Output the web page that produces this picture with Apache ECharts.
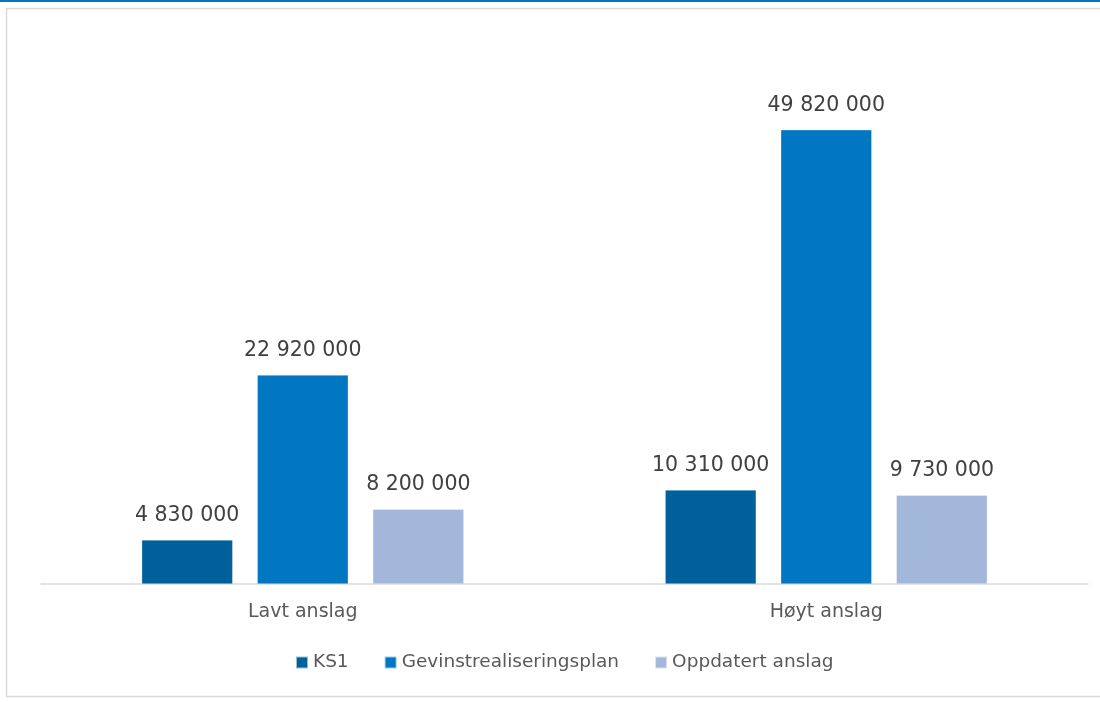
<!DOCTYPE html>
<html><head><meta charset="utf-8">
<script src="https://cdn.jsdelivr.net/npm/echarts@6/dist/echarts.min.js"></script>
<style>html,body{margin:0;padding:0;background:#fff}#c{width:1100px;height:702px}</style>
</head><body><div id="c"></div>
<script>
const categories = ['Lavt anslag', 'Høyt anslag'];
const seriesNames = ['KS1', 'Gevinstrealiseringsplan', 'Oppdatert anslag'];
const ks1 = [4830000, 10310000];
const gevinst = [22920000, 49820000];
const oppdatert = [8200000, 9730000];
const colors = ['#00609C', '#0077C0', '#A2B7D9'];
const FONT = '"DejaVu Sans", sans-serif';
function fmt(v){ return String(v).replace(/\B(?=(\d{3})+(?!\d))/g, ' '); }
const chart = echarts.init(document.getElementById('c'));
const data = [ks1, gevinst, oppdatert];
chart.setOption({
  animation: false,
  graphic: [
    {type:'rect', shape:{x:0,y:0,width:1100,height:2}, style:{fill:'#0077C0'}},
    {type:'rect', shape:{x:6.5,y:8.5,width:1100,height:688}, style:{fill:'none', stroke:'#D9D9D9', lineWidth:1.5}}
  ],
  grid: {left: 41, right: 12, top: 37, bottom: 118, containLabel: false},
  legend: {
    bottom: 25, left: 290, itemWidth: 12, itemHeight: 12, itemGap: 35,
    icon: 'rect',
    textStyle: {fontFamily: FONT, fontSize: 18.5, color: '#595959'},
    data: seriesNames
  },
  xAxis: {
    type: 'category', data: categories,
    axisLine: {lineStyle: {color: '#D9D9D9', width: 1.5}},
    axisTick: {show: false},
    axisLabel: {fontFamily: FONT, fontSize: 19, color: '#595959', margin: 19}
  },
  yAxis: {type: 'value', min: 0, max: 60000000, show: false, splitLine:{show:false}},
  series: seriesNames.map((n, i) => ({
    name: n, type: 'bar', data: data[i],
    barWidth: 91, barGap: '27%',
    itemStyle: {color: colors[i], borderColor: 'rgba(255,255,255,0.6)', borderWidth: 0.5},
    label: {show: true, position: 'top', distance: 14, formatter: p => fmt(p.value),
      fontFamily: FONT, fontSize: 20.5, color: '#404040'}
  }))
});
</script></body></html>
